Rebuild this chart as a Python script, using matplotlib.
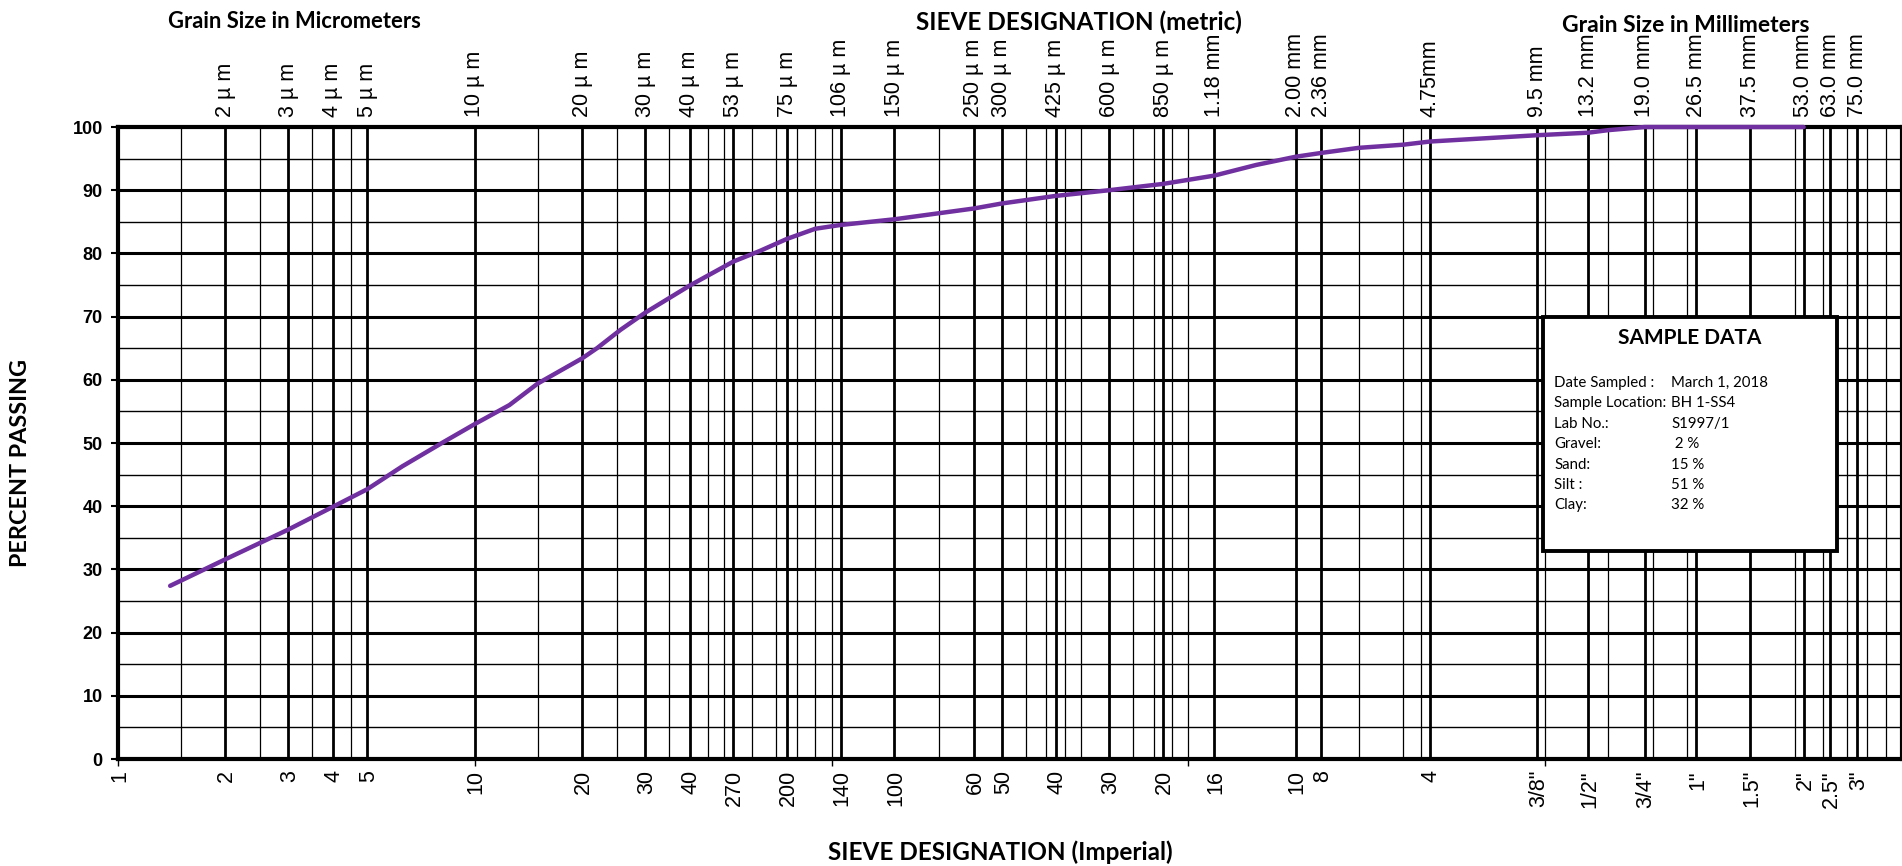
import numpy as np
import matplotlib
matplotlib.use("Agg")
import matplotlib.pyplot as plt
from matplotlib.patches import Rectangle

# grain size curve (sizes in micrometers, percent passing)
sizes_um = [1.40, 2, 3, 4, 5, 6.26, 8.2, 10, 12.5, 15, 20, 22, 25.6, 30, 40, 53, 63, 75, 90, 106,
            150, 250, 300, 425, 600, 850, 1180, 1550, 2000, 2360, 3000, 4000, 4750, 9500, 13200,
            15000, 19000, 53000]
pct_passing = [27.4, 31.6, 36.3, 39.9, 42.7, 46.3, 50.2, 53.0, 56.0, 59.4, 63.4, 65.0, 67.9, 70.6,
               74.9, 78.7, 80.4, 82.3, 83.9, 84.5, 85.4, 87.1, 87.9, 89.1, 90.0, 91.0, 92.3, 94.0,
               95.3, 95.9, 96.7, 97.2, 97.7, 98.7, 99.1, 99.5, 100, 100]

# sieve grid (micrometers)
major_sieves = [2, 3, 4, 5, 10, 20, 30, 40, 53, 75, 106, 150, 250, 300, 425, 600, 850, 1180, 2000,
                2360, 4750, 9500, 13200, 19000, 26500, 37500, 53000, 63000, 75000]
minor_sieves = [1.5, 2.5, 3.5, 4.5, 15, 25, 35, 45, 50, 60, 70, 80, 90, 100, 200, 350, 400, 450, 500,
                700, 800, 900, 1000, 3000, 4000, 4500, 10000, 15000, 20000, 25000, 50000, 60000,
                70000, 80000, 90000]

metric_pos = major_sieves
metric_labels = ["2 µ m", "3 µ m", "4 µ m", "5 µ m", "10 µ m", "20 µ m", "30 µ m", "40 µ m",
                 "53 µ m", "75 µ m", "106 µ m", "150 µ m", "250 µ m", "300 µ m", "425 µ m",
                 "600 µ m", "850 µ m", "1.18 mm", "2.00 mm", "2.36 mm", "4.75mm", "9.5 mm",
                 "13.2 mm", "19.0 mm", "26.5 mm", "37.5 mm", "53.0 mm", "63.0 mm", "75.0 mm"]

imperial_pos = [1] + major_sieves
imperial_labels = ["1", "2", "3", "4", "5", "10", "20", "30", "40", "270", "200", "140", "100", "60",
                   "50", "40", "30", "20", "16", "10", "8", "4", '3/8"', '1/2"', '3/4"', '1"',
                   '1.5"', '2"', '2.5"', '3"']

sample_title = "SAMPLE DATA"
sample_keys = ["Date Sampled :", "Sample Location:", "Lab No.:", "Gravel:", "Sand:", "Silt :", "Clay:"]
sample_vals = ["March 1, 2018", "BH 1-SS4", "S1997/1", " 2 %", "15 %", "51 %", "32 %"]

W, H = 1902, 866
fig = plt.figure(figsize=(W / 100, H / 100), dpi=100)
ax = fig.add_axes([118 / W, 1 - 759 / H, 1 - 118 / W, (759 - 127) / H])
ax.set_xscale("log")
ax.set_xlim(1, 1e5)
ax.set_ylim(0, 100)

# grid lines
for s in minor_sieves:
    ax.axvline(s, color="black", lw=0.9, zorder=1)
for s in major_sieves:
    ax.axvline(s, color="black", lw=2.0, zorder=1)
for p in range(5, 100, 10):
    ax.axhline(p, color="black", lw=1.0, zorder=1)
for p in range(10, 100, 10):
    ax.axhline(p, color="black", lw=2.2, zorder=1)

for sp in ax.spines.values():
    sp.set_linewidth(3)
    sp.set_zorder(4)

ax.plot(sizes_um, pct_passing, color="#7030A0", lw=3.2, solid_capstyle="round",
        zorder=5, clip_on=False)

ax.set_yticks(range(0, 101, 10))
ax.set_yticklabels([str(v) for v in range(0, 101, 10)],
                   fontfamily="Liberation Sans", fontweight="bold", fontsize=13)
ax.tick_params(axis="y", direction="out", length=5, width=1.5, pad=6)
ax.set_xticks([1, 10, 100, 1000, 10000])
ax.set_xticks([], minor=True)
ax.set_xticklabels([])
ax.tick_params(axis="x", direction="out", length=5, width=1.0)

label_font = dict(family="Liberation Sans", fontsize=15.5, rotation=90, ha="center")
for s, t in zip(metric_pos, metric_labels):
    ax.annotate(t, xy=(s, 1), xycoords=("data", "axes fraction"), xytext=(0, 7),
                textcoords="offset points", va="bottom", **label_font)
for s, t in zip(imperial_pos, imperial_labels):
    ax.annotate(t, xy=(s, 0), xycoords=("data", "axes fraction"), xytext=(1, -8),
                textcoords="offset points", va="top", **label_font)

title_font = dict(family="Lato", fontweight="bold")
fig.text(294 / W, 1 - 22 / H, "Grain Size in Micrometers", ha="center", va="center",
         fontsize=15.8, **title_font)
fig.text(1079 / W, 1 - 22 / H, "SIEVE DESIGNATION (metric)", ha="center", va="center",
         fontsize=17.5, **title_font)
fig.text(1686 / W, 1 - 25 / H, "Grain Size in Millimeters", ha="center", va="center",
         fontsize=16.5, **title_font)
fig.text(1000 / W, 1 - 852 / H, "SIEVE DESIGNATION (Imperial)", ha="center", va="center",
         fontsize=17.5, **title_font)
fig.text(21 / W, 1 - 463 / H, "PERCENT PASSING", ha="center", va="center", rotation=90,
         fontsize=16.8, **title_font)

# sample data box
fig.add_artist(Rectangle((1543 / W, 1 - 551 / H), (1837 - 1543) / W, (551 - 317) / H,
                         transform=fig.transFigure, facecolor="white", edgecolor="black",
                         lw=2.8, zorder=6))
fig.text(1690 / W, 1 - 338 / H, sample_title, ha="center", va="center",
         family="Lato", fontweight="bold", fontsize=15, zorder=7)
for i, (k, v) in enumerate(zip(sample_keys, sample_vals)):
    y = 1 - (383 + 20.4 * i) / H
    fig.text(1554 / W, y, k, ha="left", va="center", family="Lato", fontsize=10.8, zorder=7)
    fig.text(1671 / W, y, v, ha="left", va="center", family="Lato", fontsize=10.8, zorder=7)

fig.savefig("out.png", dpi=100)
